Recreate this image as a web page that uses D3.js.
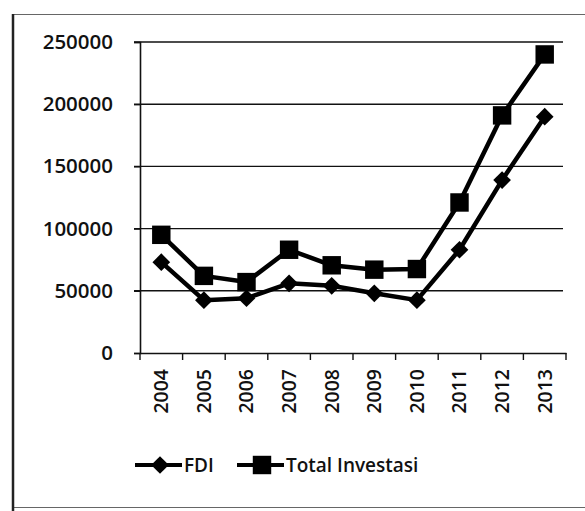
<!DOCTYPE html>
<html>
<head>
<meta charset="utf-8">
<script src="https://cdn.jsdelivr.net/npm/d3@7"></script>
<style>
  body { margin: 0; background: #fff; }
  svg { display: block; }
</style>
</head>
<body>
<div id="chart"></div>
<script>
var svgWidth = 585;
var svgHeight = 511;

var years = ['2004', '2005', '2006', '2007', '2008', '2009', '2010', '2011', '2012', '2013'];
var fdi = [73000, 42500, 44000, 56000, 54000, 48000, 42500, 83000, 139000, 190000];
var totalInvestasi = [95000, 62000, 57000, 83000, 70500, 67000, 67500, 121000, 191000, 240000];
var yTicks = [0, 50000, 100000, 150000, 200000, 250000];

var leftMargin = 140;
var rightMargin = 19;
var topMargin = 42;
var chartHeight = 353 - topMargin;
var chartWidth = svgWidth - leftMargin - rightMargin;

var font = "'Open Sans', 'Noto Sans', sans-serif";

var svg = d3.select("#chart")
    .append("svg")
    .attr("width", svgWidth)
    .attr("height", svgHeight);

// outer frame of the chart
svg.append("rect")
    .attr("x", 12.5)
    .attr("y", 14.5)
    .attr("width", 580)
    .attr("height", 493)
    .attr("fill", "none")
    .attr("stroke", "#666")
    .attr("stroke-width", 1);
svg.append("line")
    .attr("x1", 13).attr("x2", 13)
    .attr("y1", 14).attr("y2", 511)
    .attr("stroke", "#222")
    .attr("stroke-width", 2.5);

var chart = svg.append("g")
    .attr("transform", `translate(${leftMargin}, ${topMargin})`);

var xScale = d3.scaleBand()
    .domain(years)
    .range([0, chartWidth]);
var yScale = d3.scaleLinear()
    .domain([0, 250000])
    .range([chartHeight, 0]);

// gridlines
chart.append("g")
    .selectAll("line")
    .data(yTicks.filter(d => d > 0))
    .enter()
    .append("line")
    .attr("x1", -6)
    .attr("x2", chartWidth - 3)
    .attr("y1", d => yScale(d))
    .attr("y2", d => yScale(d))
    .attr("stroke", "#111")
    .attr("stroke-width", 1.4);

var yAxis = d3.axisLeft(yScale)
    .tickValues(yTicks)
    .tickSize(6)
    .tickPadding(21)
    .tickFormat(d3.format("d"));

var yAxisG = chart.append("g").call(yAxis);
yAxisG.select(".domain").attr("stroke", "#111").attr("stroke-width", 1.6);
yAxisG.selectAll(".tick line").attr("stroke", "#111").attr("stroke-width", 1.4);
yAxisG.selectAll("text")
    .attr("font-family", font)
    .attr("font-size", 20.5)
    .attr("font-weight", 600)
    .attr("fill", "#111");

var xAxis = d3.axisBottom(xScale)
    .tickSize(0)
    .tickFormat(d => d);

var xAxisG = chart.append("g")
    .attr("transform", `translate(0, ${chartHeight})`)
    .call(xAxis);
xAxisG.select(".domain").attr("stroke", "#111").attr("stroke-width", 1.6);
xAxisG.selectAll("text")
    .attr("font-family", font)
    .attr("font-size", 19.5)
    .attr("font-weight", 600)
    .attr("fill", "#111")
    .attr("transform", "rotate(-90)")
    .attr("text-anchor", "end")
    .attr("dy", "0.35em")
    .attr("x", -16)
    .attr("y", 0);

// tick marks at category boundaries
xAxisG.append("g")
    .selectAll("line")
    .data(d3.range(years.length + 1))
    .enter()
    .append("line")
    .attr("x1", i => i * xScale.bandwidth())
    .attr("x2", i => i * xScale.bandwidth())
    .attr("y1", 0)
    .attr("y2", 7)
    .attr("stroke", "#111")
    .attr("stroke-width", 1.4);

var line = d3.line()
    .x((d, i) => xScale(years[i]) + xScale.bandwidth() / 2)
    .y(d => yScale(d));

chart.append("path")
    .datum(totalInvestasi)
    .attr("d", line)
    .attr("fill", "none")
    .attr("stroke", "#000")
    .attr("stroke-width", 4.5)
    .attr("stroke-linejoin", "round");

chart.append("path")
    .datum(fdi)
    .attr("d", line)
    .attr("fill", "none")
    .attr("stroke", "#000")
    .attr("stroke-width", 4.5)
    .attr("stroke-linejoin", "round");

var square = d3.symbol().type(d3.symbolSquare).size(340);
var diamond = d3.symbol().type(d3.symbolDiamond2).size(200);

chart.append("g")
    .selectAll("path")
    .data(totalInvestasi)
    .enter()
    .append("path")
    .attr("d", square)
    .attr("transform", (d, i) => `translate(${xScale(years[i]) + xScale.bandwidth() / 2}, ${yScale(d)})`)
    .attr("fill", "#000");

chart.append("g")
    .selectAll("path")
    .data(fdi)
    .enter()
    .append("path")
    .attr("d", diamond)
    .attr("transform", (d, i) => `translate(${xScale(years[i]) + xScale.bandwidth() / 2}, ${yScale(d)})`)
    .attr("fill", "#000");

// legend
var legend = svg.append("g")
    .attr("transform", "translate(0, 465)");

var legendItems = [
    {name: "FDI", x: 135, marker: diamond},
    {name: "Total Investasi", x: 237, marker: square}
];

legendItems.forEach(function(item) {
    legend.append("line")
        .attr("x1", item.x)
        .attr("x2", item.x + 47)
        .attr("y1", 0)
        .attr("y2", 0)
        .attr("stroke", "#000")
        .attr("stroke-width", 4);
    legend.append("path")
        .attr("d", item.marker)
        .attr("transform", `translate(${item.x + 25}, 0)`)
        .attr("fill", "#000");
    legend.append("text")
        .attr("x", item.x + 49)
        .attr("y", 0)
        .attr("dy", "0.35em")
        .attr("font-family", font)
        .attr("font-size", 19)
        .attr("font-weight", 600)
        .attr("fill", "#111")
        .text(item.name);
});
</script>
</body>
</html>
